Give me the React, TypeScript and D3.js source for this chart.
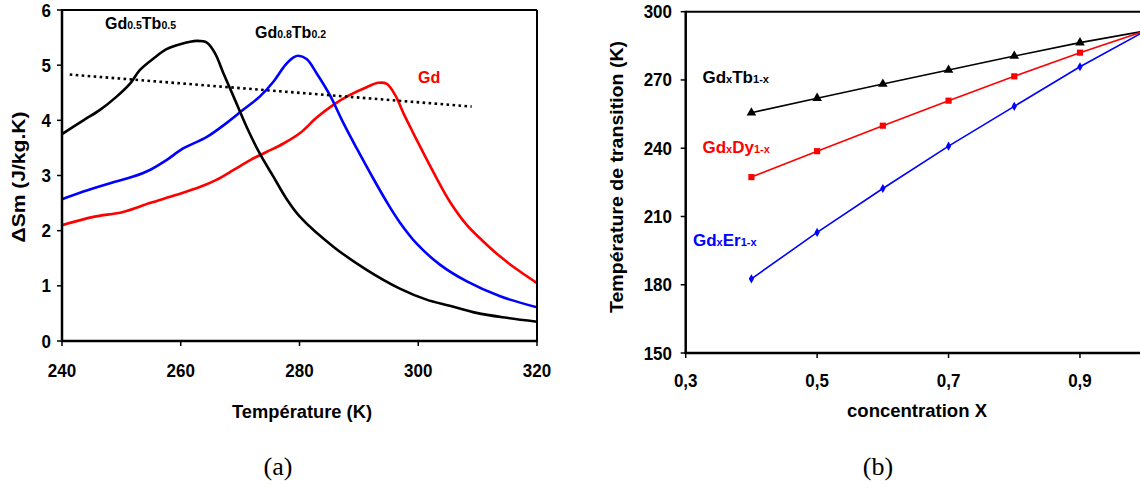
import React from "react";
import * as d3 from "d3";

// ---------- Data: panel (a) ----------
const tempBlack = [240, 243.6, 246.4, 249.2, 251.5, 253.1, 255.4, 257.6, 259.9, 262.7, 264.4, 265.8, 267.2, 268.9, 271.1, 273.3, 275.6, 277.8, 280.1, 285.7, 291.3, 296.9, 301.4, 305.3, 309.8, 314.9, 320];
const dsBlack = [3.75, 4.0, 4.19, 4.43, 4.67, 4.91, 5.12, 5.29, 5.38, 5.44, 5.41, 5.21, 4.85, 4.43, 3.88, 3.4, 2.98, 2.58, 2.25, 1.71, 1.29, 0.95, 0.75, 0.64, 0.51, 0.42, 0.35];

const tempBlue = [240, 243.6, 248.1, 252, 254.8, 257.6, 260.4, 264.4, 267.7, 270.5, 273.3, 275.6, 277.6, 279, 279.8, 281.2, 282.9, 285.1, 287.4, 289.6, 292.4, 294.7, 296.9, 299.7, 303.7, 308.2, 313.8, 320];
const dsBlue = [2.57, 2.71, 2.86, 2.98, 3.1, 3.28, 3.49, 3.7, 3.95, 4.19, 4.43, 4.7, 5.0, 5.14, 5.17, 5.11, 4.85, 4.46, 3.95, 3.5, 2.95, 2.52, 2.15, 1.77, 1.38, 1.08, 0.81, 0.61];

const tempRed = [240, 245.3, 250.3, 254.8, 259.3, 263.2, 266, 268.9, 271.7, 274.5, 277.3, 280.1, 282.9, 285.7, 288.5, 291.3, 293.3, 294.7, 296.1, 297.5, 299.2, 300.9, 303.1, 305.3, 308.2, 311, 313.8, 316.6, 320];
const dsRed = [2.1, 2.25, 2.34, 2.5, 2.65, 2.79, 2.92, 3.1, 3.28, 3.43, 3.58, 3.77, 4.05, 4.28, 4.46, 4.6, 4.68, 4.66, 4.46, 4.13, 3.76, 3.4, 2.95, 2.53, 2.1, 1.8, 1.53, 1.3, 1.05];

const dottedTemp = [241.3, 309];
const dottedDs = [4.83, 4.25];

const tempTicks = [240, 260, 280, 300, 320];
const dsTicks = [0, 1, 2, 3, 4, 5, 6];

// ---------- Data: panel (b) ----------
const conc = [0.4, 0.5, 0.6, 0.7, 0.8, 0.9, 1.0];
const tTb = [255.6, 262, 268.2, 274.4, 280.5, 286.4, 291.6];
const tDy = [227.3, 238.7, 249.9, 260.9, 271.6, 282, 291.6];
const tEr = [182.6, 203, 222.3, 240.9, 258.4, 275.8, 291.6];

const concTicks = [0.3, 0.5, 0.7, 0.9];
const concTickLabels = ["0,3", "0,5", "0,7", "0,9"];
const transTicks = [150, 180, 210, 240, 270, 300];

const W = 1140;
const H = 491;
const FONT = "'Liberation Sans', Arial, sans-serif";
const SERIF = "'Liberation Serif', 'Times New Roman', serif";

function T(props: {
  x: number; y: number; size: number; anchor?: string; fill?: string; sy?: number; rotate?: number; children: any; weight?: string; family?: string; textLength?: number;
}) {
  const { x, y, size, anchor = "start", fill = "#000", sy = 1, rotate = 0, children, weight = "bold", family = FONT, textLength } = props;
  const tf = rotate
    ? `translate(${x},${y}) rotate(${rotate}) scale(${sy},1)`
    : `translate(${x},${y}) scale(1,${sy})`;
  return (
    <g transform={tf}>
      <text
        x={0}
        y={0}
        fontSize={size}
        fontWeight={weight}
        fontFamily={family}
        textAnchor={anchor}
        fill={fill}
        textLength={textLength}
        lengthAdjust={textLength ? "spacingAndGlyphs" : undefined}
      >
        {children}
      </text>
    </g>
  );
}

function Chem(props: { x: number; y: number; parts: [string, boolean][]; fill: string; main: number; sub: number }) {
  const { x, y, parts, fill, main, sub } = props;
  return (
    <text x={x} y={y} fill={fill} fontFamily={FONT} fontWeight="bold">
      {parts.map(([s, isSub], i) => (
        <tspan key={i} fontSize={isSub ? sub : main}>
          {s}
        </tspan>
      ))}
    </text>
  );
}

export default function App() {
  // Panel (a) scales
  const xA = d3.scaleLinear().domain([240, 320]).range([62, 537]);
  const yA = d3.scaleLinear().domain([0, 6]).range([341, 10]);
  // Panel (b) scales
  const xB = d3.scaleLinear().domain([0.3, 1.1]).range([685.7, 1211.4]);
  const yB = d3.scaleLinear().domain([150, 300]).range([353, 11.7]);

  const lineA = (xs: number[], ys: number[]) =>
    d3
      .line<number>()
      .x((_, i) => xA(xs[i]))
      .y((_, i) => yA(ys[i]))
      .curve(d3.curveCatmullRom.alpha(0.5))(ys) as string;

  const lineB = (ys: number[]) =>
    d3
      .line<number>()
      .x((_, i) => xB(conc[i]))
      .y((d) => yB(d))(ys) as string;

  const tri = d3.symbol().type(d3.symbolTriangle).size(40)() as string;
  const sq = d3.symbol().type(d3.symbolSquare).size(38)() as string;
  const dia = d3.symbol().type(d3.symbolDiamond).size(24)() as string;

  const axisW = 2.5;

  return (
    <svg width={W} height={H} style={{ position: "absolute", left: 0, top: 0, background: "#fff" }}>
      <rect x={0} y={0} width={W} height={H} fill="#fff" />

      {/* ================= Panel (a) ================= */}
      <defs>
        <clipPath id="clipA">
          <rect x={xA(240)} y={yA(6)} width={xA(320) - xA(240)} height={yA(0) - yA(6)} />
        </clipPath>
      </defs>
      <g clipPath="url(#clipA)">
        <path d={lineA(tempRed, dsRed)} fill="none" stroke="#ff0000" strokeWidth={2.6} />
        <path d={lineA(tempBlue, dsBlue)} fill="none" stroke="#0000ff" strokeWidth={2.6} />
        <path d={lineA(tempBlack, dsBlack)} fill="none" stroke="#000" strokeWidth={2.6} />
        <line
          x1={xA(dottedTemp[0])}
          y1={yA(dottedDs[0])}
          x2={xA(dottedTemp[1])}
          y2={yA(dottedDs[1])}
          stroke="#000"
          strokeWidth={2.6}
          strokeDasharray="2.6,3.4"
        />
      </g>
      {/* frame */}
      <line x1={xA(240)} y1={yA(6)} x2={xA(320)} y2={yA(6)} stroke="#000" strokeWidth={2} />
      <line x1={xA(320)} y1={yA(6)} x2={xA(320)} y2={yA(0)} stroke="#000" strokeWidth={2} />
      <line x1={xA(240)} y1={yA(6) - 1} x2={xA(240)} y2={yA(0) + 1} stroke="#000" strokeWidth={axisW} />
      <line x1={xA(240) - 1} y1={yA(0)} x2={xA(320) + 1} y2={yA(0)} stroke="#000" strokeWidth={axisW} />
      {dsTicks.map((v) => (
        <g key={"ya" + v}>
          <line x1={xA(240) - 5} x2={xA(240)} y1={yA(v)} y2={yA(v)} stroke="#000" strokeWidth={1.5} />
          <T x={51} y={yA(v) + 6.5} size={17} sy={1.12} anchor="end">
            {String(v)}
          </T>
        </g>
      ))}
      {tempTicks.map((v) => (
        <g key={"xa" + v}>
          <line x1={xA(v)} x2={xA(v)} y1={yA(0)} y2={yA(0) + 5} stroke="#000" strokeWidth={1.5} />
          <T x={xA(v)} y={377} size={17} sy={1.12} anchor="middle">
            {String(v)}
          </T>
        </g>
      ))}
      <T x={302} y={418} size={17} sy={1.12} anchor="middle" textLength={140}>
        Température (K)
      </T>
      <T x={25} y={177} size={18} rotate={-90} anchor="middle" textLength={131}>
        ΔSm (J/kg.K)
      </T>

      <Chem x={105} y={29} fill="#000" main={16} sub={10.5} parts={[["Gd", false], ["0.5", true], ["Tb", false], ["0.5", true]]} />
      <Chem x={255} y={38} fill="#000" main={16} sub={10.5} parts={[["Gd", false], ["0.8", true], ["Tb", false], ["0.2", true]]} />
      <Chem x={418} y={83} fill="#ff0000" main={16} sub={10.5} parts={[["Gd", false]]} />

      {/* ================= Panel (b) ================= */}
      <line x1={xB(0.3)} y1={yB(300)} x2={W} y2={yB(300)} stroke="#000" strokeWidth={2} />
      <line x1={xB(0.3)} y1={yB(300) - 1} x2={xB(0.3)} y2={yB(150) + 1} stroke="#000" strokeWidth={axisW} />
      <line x1={xB(0.3) - 1} y1={yB(150)} x2={W} y2={yB(150)} stroke="#000" strokeWidth={axisW} />
      {transTicks.map((v) => (
        <g key={"yb" + v}>
          <line x1={xB(0.3) - 5} x2={xB(0.3)} y1={yB(v)} y2={yB(v)} stroke="#000" strokeWidth={1.5} />
          <T x={672} y={yB(v) + 6.5} size={17} sy={1.12} anchor="end">
            {String(v)}
          </T>
        </g>
      ))}
      {concTicks.map((v, i) => (
        <g key={"xb" + v}>
          <line x1={xB(v)} x2={xB(v)} y1={yB(150)} y2={yB(150) + 5} stroke="#000" strokeWidth={1.5} />
          <T x={xB(v)} y={387} size={17} sy={1.12} anchor="middle">
            {concTickLabels[i]}
          </T>
        </g>
      ))}
      <T x={917} y={417} size={17} sy={1.12} anchor="middle" textLength={140}>
        concentration X
      </T>
      <T x={623} y={177} size={18} rotate={-90} anchor="middle" textLength={272}>
        Température de transition (K)
      </T>

      <path d={lineB(tTb)} fill="none" stroke="#000" strokeWidth={1.6} />
      <path d={lineB(tDy)} fill="none" stroke="#ff0000" strokeWidth={1.6} />
      <path d={lineB(tEr)} fill="none" stroke="#0000ff" strokeWidth={1.6} />
      {conc.map((c, i) => (
        <g key={"m" + i}>
          <path d={tri} transform={`translate(${xB(c)},${yB(tTb[i])})`} fill="#000" />
          <path d={sq} transform={`translate(${xB(c)},${yB(tDy[i])})`} fill="#ff0000" />
          <path d={dia} transform={`translate(${xB(c)},${yB(tEr[i])})`} fill="#0000ff" />
        </g>
      ))}

      <Chem x={702.5} y={83} fill="#000" main={17} sub={11} parts={[["Gd", false], ["x", true], ["Tb", false], ["1-x", true]]} />
      <Chem x={702.5} y={153} fill="#ff0000" main={17} sub={11} parts={[["Gd", false], ["x", true], ["Dy", false], ["1-x", true]]} />
      <Chem x={693} y={246} fill="#0000ff" main={17} sub={11} parts={[["Gd", false], ["x", true], ["Er", false], ["1-x", true]]} />

      {/* panel labels */}
      <T x={278} y={475} size={26} anchor="middle" weight="normal" family={SERIF}>
        (a)
      </T>
      <T x={878} y={475} size={26} anchor="middle" weight="normal" family={SERIF}>
        (b)
      </T>
    </svg>
  );
}
